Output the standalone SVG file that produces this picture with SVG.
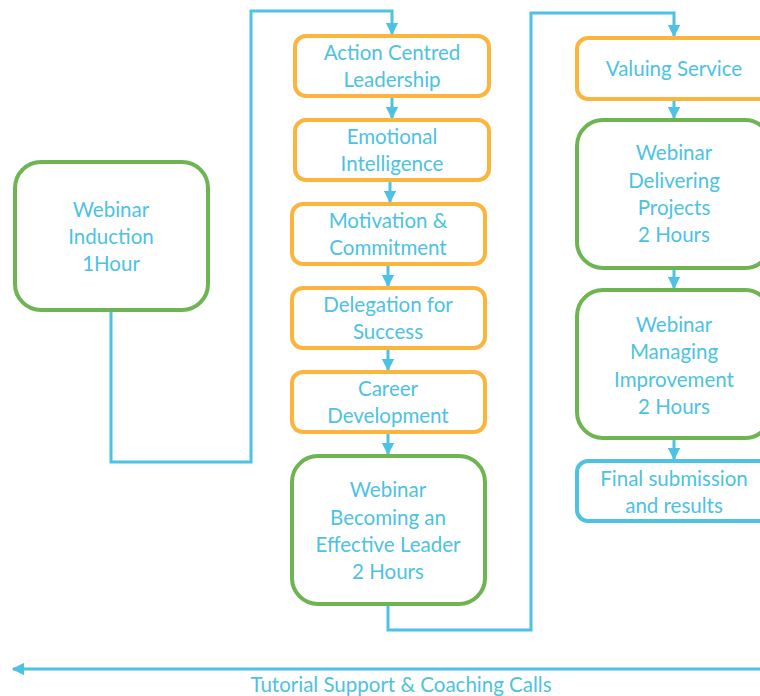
<svg xmlns="http://www.w3.org/2000/svg" width="760" height="696" viewBox="0 0 760 696">
  <style>
    .box { fill: #ffffff; stroke-width: 4; }
    .step { stroke: #FBB53C; }
    .web { stroke: #6DB550; }
    .fin { stroke: #4DC2E2; }
    .lbl { font-family: Lato, "Open Sans", "Liberation Sans", sans-serif; font-size: 20.5px; fill: #4DC2E2; text-anchor: middle; }
    .wire { fill: none; stroke: #4DC2E2; stroke-width: 3; }
  </style>
  <defs>
    <marker id="arr" viewBox="0 0 10 10" refX="9" refY="5" markerWidth="4.2" markerHeight="4.2" orient="auto" markerUnits="strokeWidth">
      <path d="M0,0 L10,5 L0,10 z" fill="#4DC2E2"/>
    </marker>
  </defs>

  <rect width="760" height="696" fill="#ffffff"/>

  <!-- connectors -->
  <g id="connectors">
    <polyline class="wire" points="111,310 111,462 251,462 251,11 392,11 392,34" marker-end="url(#arr)"/>
    <line class="wire" x1="392" y1="96" x2="392" y2="118" marker-end="url(#arr)"/>
    <line class="wire" x1="390" y1="180" x2="390" y2="202" marker-end="url(#arr)"/>
    <line class="wire" x1="388" y1="264" x2="388" y2="286" marker-end="url(#arr)"/>
    <line class="wire" x1="388" y1="348" x2="388" y2="370" marker-end="url(#arr)"/>
    <line class="wire" x1="388" y1="432" x2="388" y2="454" marker-end="url(#arr)"/>
    <polyline class="wire" points="388,604 388,630 531,630 531,13 674,13 674,36" marker-end="url(#arr)"/>
    <line class="wire" x1="674" y1="99" x2="674" y2="118" marker-end="url(#arr)"/>
    <line class="wire" x1="674" y1="268" x2="674" y2="288" marker-end="url(#arr)"/>
    <line class="wire" x1="674" y1="438" x2="674" y2="459" marker-end="url(#arr)"/>
    <line class="wire" x1="760" y1="669" x2="13" y2="669" marker-end="url(#arr)"/>
  </g>

  <g id="induction">
    <rect class="box web" x="15" y="162" width="193" height="148" rx="26"/>
    <text class="lbl" x="111" y="217">Webinar</text>
    <text class="lbl" x="111" y="244">Induction</text>
    <text class="lbl" x="111" y="271">1Hour</text>
  </g>

  <g id="action-centred">
    <rect class="box step" x="295" y="36" width="194" height="60" rx="11"/>
    <text class="lbl" x="392" y="60">Action Centred</text>
    <text class="lbl" x="392" y="87">Leadership</text>
  </g>

  <g id="emotional">
    <rect class="box step" x="295" y="120" width="194" height="60" rx="11"/>
    <text class="lbl" x="392" y="144">Emotional</text>
    <text class="lbl" x="392" y="171">Intelligence</text>
  </g>

  <g id="motivation">
    <rect class="box step" x="292" y="204" width="193" height="60" rx="11"/>
    <text class="lbl" x="388" y="228">Motivation &amp;</text>
    <text class="lbl" x="388" y="255">Commitment</text>
  </g>

  <g id="delegation">
    <rect class="box step" x="292" y="288" width="193" height="60" rx="11"/>
    <text class="lbl" x="388" y="312">Delegation for</text>
    <text class="lbl" x="388" y="339">Success</text>
  </g>

  <g id="career">
    <rect class="box step" x="292" y="372" width="193" height="60" rx="11"/>
    <text class="lbl" x="388" y="396">Career</text>
    <text class="lbl" x="388" y="423">Development</text>
  </g>

  <g id="effective-leader">
    <rect class="box web" x="292" y="456" width="193" height="148" rx="26"/>
    <text class="lbl" x="388" y="497">Webinar</text>
    <text class="lbl" x="388" y="525">Becoming an</text>
    <text class="lbl" x="388" y="552">Effective Leader</text>
    <text class="lbl" x="388" y="579">2 Hours</text>
  </g>

  <g id="valuing-service">
    <rect class="box step" x="577" y="38" width="194" height="61" rx="11"/>
    <text class="lbl" x="674" y="76">Valuing Service</text>
  </g>

  <g id="delivering-projects">
    <rect class="box web" x="577" y="120" width="194" height="148" rx="26"/>
    <text class="lbl" x="674" y="160">Webinar</text>
    <text class="lbl" x="674" y="188">Delivering</text>
    <text class="lbl" x="674" y="215">Projects</text>
    <text class="lbl" x="674" y="242">2 Hours</text>
  </g>

  <g id="managing-improvement">
    <rect class="box web" x="577" y="290" width="194" height="148" rx="26"/>
    <text class="lbl" x="674" y="332">Webinar</text>
    <text class="lbl" x="674" y="359">Managing</text>
    <text class="lbl" x="674" y="387">Improvement</text>
    <text class="lbl" x="674" y="414">2 Hours</text>
  </g>

  <g id="final-submission">
    <rect class="box fin" x="577" y="461" width="194" height="60" rx="11"/>
    <text class="lbl" x="674" y="486">Final submission</text>
    <text class="lbl" x="674" y="513">and results</text>
  </g>

  <text id="tutorial-label" class="lbl" x="401" y="692">Tutorial Support &amp; Coaching Calls</text>
</svg>
